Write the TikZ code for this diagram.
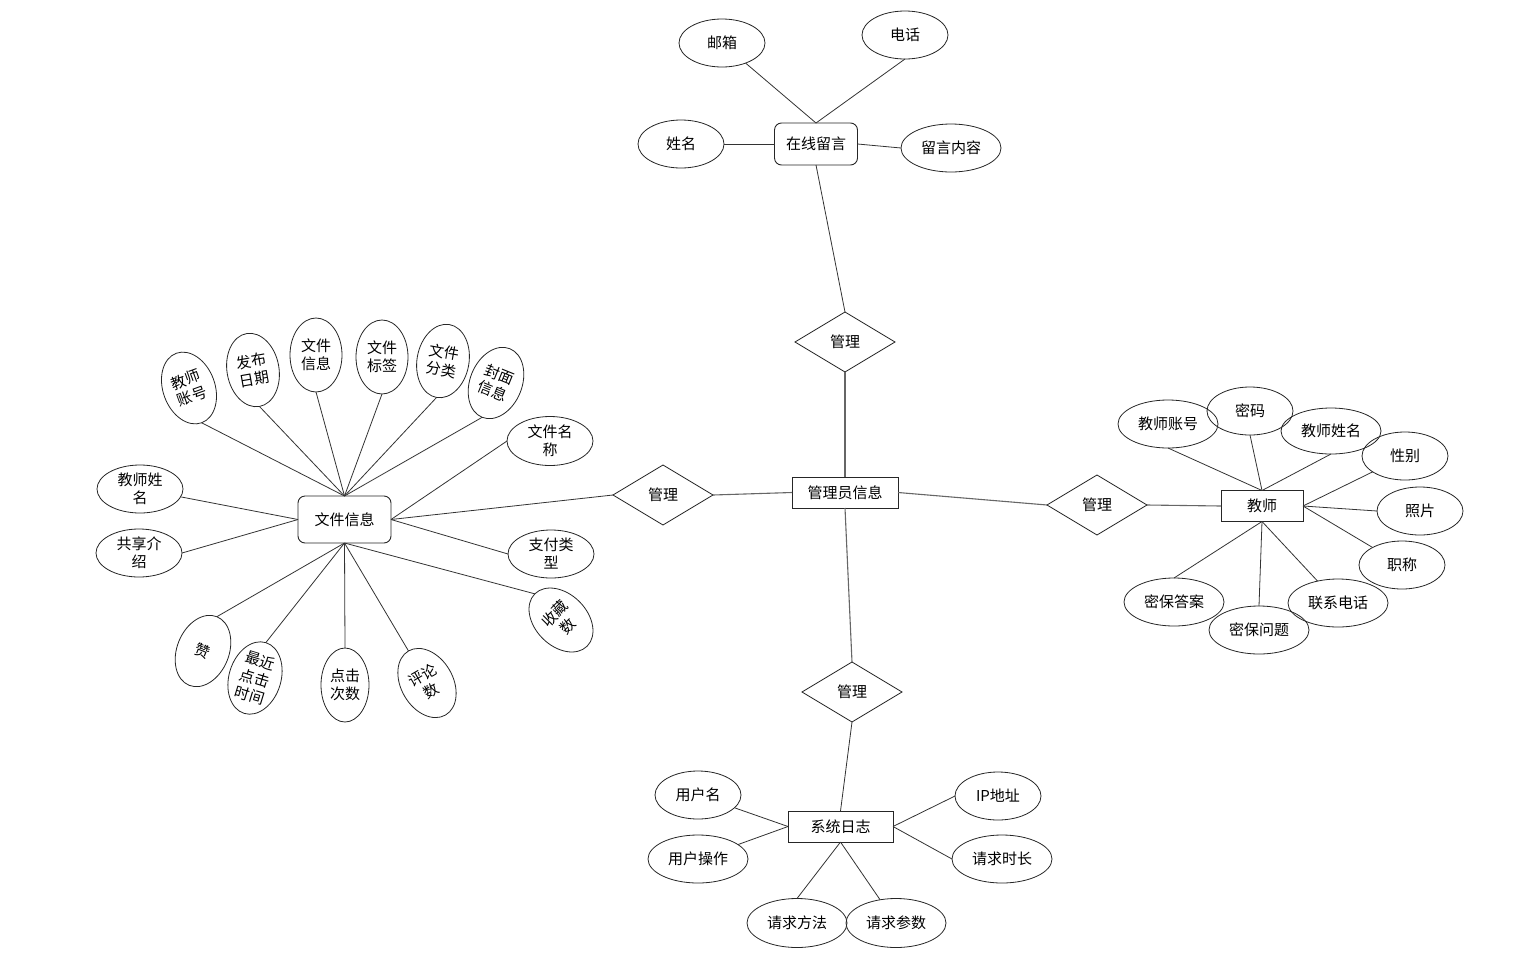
\documentclass[tikz,border=0pt]{standalone}
\usepackage{fontspec}
\setmainfont{Noto Sans CJK SC}
\usetikzlibrary{shapes.geometric}
\begin{document}
\begin{tikzpicture}[x=1pt,y=-1pt,
  every node/.style={font=\fontsize{15}{18}\selectfont, text=black},
  attr/.style={ellipse, draw=black!85, line width=0.8pt, inner sep=0pt, outer sep=0pt, align=center},
  attrA/.style={attr, minimum width=86pt, minimum height=48pt},
  attrB/.style={attr, minimum width=100pt, minimum height=48pt},
  attrV/.style={attr, minimum width=52pt, minimum height=74pt},
  ent/.style={rectangle, draw=black!85, line width=0.9pt, inner sep=0pt, outer sep=0pt},
  rent/.style={ent, rounded corners=7pt},
  rel/.style={diamond, draw=black!85, line width=0.8pt, inner sep=0pt, outer sep=0pt, minimum width=100pt, minimum height=60pt},
  conn/.style={draw=black!80, line width=0.8pt},
  mainconn/.style={draw=black!60, line width=1.1pt}]
\useasboundingbox (0,0) rectangle (1521,956);

% entities
\node[ent, minimum width=106pt, minimum height=31pt] (gly) at (845,492.5) {管理员信息};
\node[rent, minimum width=83pt, minimum height=42pt] (zx) at (816,144) {在线留言};
\node[rent, minimum width=93pt, minimum height=47pt] (wj) at (344.5,519.5) {文件信息};
\node[ent, minimum width=82pt, minimum height=31pt] (js) at (1262,506) {教师};
\node[ent, minimum width=105pt, minimum height=31pt] (rz) at (840.5,826.5) {系统日志};

% relations
\node[rel] (d1) at (845,342) {管理};
\node[rel] (d2) at (663,495) {管理};
\node[rel] (d3) at (1097,505) {管理};
\node[rel] (d4) at (852,692) {管理};

\draw[conn] (zx.south) -- (d1.north);
\draw[mainconn] (d1.south) -- (gly.north);
\draw[mainconn] (gly.west) -- (d2.east);
\draw[conn] (d2.west) -- (wj.east);
\draw[mainconn] (gly.east) -- (d3.west);
\draw[mainconn] (d3.east) -- (js.west);
\draw[mainconn] (gly.south) -- (d4.north);
\draw[conn] (d4.south) -- (rz.north);

% online message attributes
\node[attrA] (yx) at (722,43) {邮箱};
\node[attrA] (dh) at (905,35) {电话};
\node[attrA] (xm) at (681,144) {姓名};
\node[attrB] (lynr) at (951,148) {留言内容};
\draw[conn] (yx) -- (zx.north);
\draw[conn] (dh.south) -- (zx.north);
\draw[conn] (xm.east) -- (zx.west);
\draw[conn] (lynr.west) -- (zx.east);

% teacher attributes
\node[attrB] (jszh) at (1168,424) {教师账号};
\node[attrA] (mm) at (1250,411) {密码};
\node[attrB, minimum height=46pt] (jsxm) at (1331,431) {教师姓名};
\node[attrA] (xb) at (1405,456) {性别};
\node[attrA] (zp) at (1420,511) {照片};
\node[attrA] (zc) at (1402,565) {职称};
\node[attrB] (mbda) at (1174,602) {密保答案};
\node[attrB] (mbwt) at (1259,630) {密保问题};
\node[attrB] (lxdh) at (1338,603) {联系电话};
\draw[conn] (jszh.south) -- (js.north);
\draw[conn] (mm.south) -- (js.north);
\draw[conn] (jsxm.south) -- (js.north);
\draw[conn] (xb) -- (js.east);
\draw[conn] (zp.west) -- (js.east);
\draw[conn] (zc) -- (js.east);
\draw[conn] (mbda.north) -- (js.south);
\draw[conn] (mbwt.north) -- (js.south);
\draw[conn] (lxdh) -- (js.south);

% log attributes
\node[attrA] (yhm) at (698,795) {用户名};
\node[attrB] (yhcz) at (698,859) {用户操作};
\node[attrA] (ip) at (998,796) {IP地址};
\node[attrB] (qqsc) at (1002,859) {请求时长};
\node[attrB, minimum height=49pt] (qqff) at (797,923) {请求方法};
\node[attrB, minimum height=49pt] (qqcs) at (896,923) {请求参数};
\draw[conn] (yhm) -- (rz.west);
\draw[conn] (yhcz) -- (rz.west);
\draw[conn] (ip.west) -- (rz.east);
\draw[conn] (qqsc.west) -- (rz.east);
\draw[conn] (qqff.north) -- (rz.south);
\draw[conn] (qqcs) -- (rz.south);

% file attributes
\node[attrV, rotate=20] (f1) at (189,388) {教师\\账号};
\node[attrV, rotate=10] (f2) at (253,370) {发布\\日期};
\node[attrV] (f3) at (316,355) {文件\\信息};
\node[attrV] (f4) at (382,357) {文件\\标签};
\node[attrV, rotate=-10] (f5) at (443,361) {文件\\分类};
\node[attrV, rotate=-22] (f6) at (496,383) {封面\\信息};
\node[attrA, minimum height=49pt] (f7) at (550,441) {文件名\\称};
\node[attrA] (f8) at (551,554) {支付类\\型};
\node[attrV, rotate=45] (f9) at (561,620) {收藏\\数};
\node[attrV, rotate=30] (f10) at (427,683) {评论\\数};
\node[attrV, minimum width=48pt] (f11) at (345,685) {点击\\次数};
\node[attrV, rotate=-17] (f12) at (255,678) {最近\\点击\\时间};
\node[attrV, rotate=-22] (f13) at (203,651) {赞};
\node[attrA] (f14) at (139,553) {共享介\\绍};
\node[attrA] (f15) at (140,489) {教师姓\\名};
\foreach \n in {f1,f2,f3,f4,f5,f6} \draw[conn] (\n.south) -- (wj.north);
\foreach \n in {f7,f8} \draw[conn] (\n.west) -- (wj.east);
\foreach \n in {f9,f10,f11,f12,f13} \draw[conn] (\n.north) -- (wj.south);
\draw[conn] (f14.east) -- (wj.west);
\draw[conn] (f15) -- (wj.west);
\end{tikzpicture}
\end{document}
